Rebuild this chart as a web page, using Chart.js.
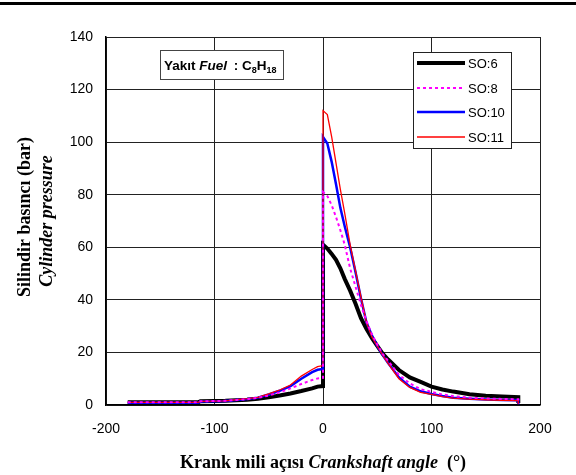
<!DOCTYPE html>
<html>
<head>
<meta charset="utf-8">
<script src="https://cdn.jsdelivr.net/npm/chart.js@4/dist/chart.umd.min.js"></script>
<style>
  html, body { margin: 0; padding: 0; background: #fff; }
  #wrap { width: 576px; height: 475px; }
</style>
</head>
<body>
<div id="wrap"><canvas id="pressure-chart" width="576" height="475"></canvas></div>
<script>
// crank angle (deg), 0 appears twice for the jump at TDC, 180 twice for the drop
const angles = [-180, -115, -113, -100, -90, -80, -70, -60, -50, -40, -30, -20, -10, -5, 0,
  0, 4, 8, 12, 16, 20, 25, 30, 35, 40, 45, 50, 55, 60, 70, 80, 90, 100, 110, 120, 135, 150, 165, 180, 180];

const so6 = [1.0, 1.0, 1.4, 1.5, 1.6, 1.8, 2.0, 2.4, 2.9, 3.6, 4.4, 5.3, 6.3, 7.0, 7.2,
  61, 59.5, 57.5, 55.2, 52, 48, 43.5, 38.5, 33, 29, 25.5, 22.5, 19.5, 17.3, 13.3, 10.5, 8.8, 7.0, 5.9, 5.1, 4.1, 3.5, 3.2, 3.0, 0.8];

const so8 = [1.0, 1.0, 1.4, 1.5, 1.6, 1.9, 2.2, 2.7, 3.6, 4.8, 6.3, 8.0, 9.5, 10.1, 10.3,
  81, 79.5, 76, 71.5, 66.5, 61, 52, 45, 38, 32, 27, 23, 19.5, 16.8, 11.5, 8.2, 6.0, 5.0, 4.0, 3.4, 2.8, 2.5, 2.3, 2.2, 0.5];

const so10 = [0.9, 0.9, 1.3, 1.4, 1.5, 1.9, 2.3, 2.8, 4.0, 5.4, 7.2, 10, 12.5, 13.4, 13.7,
  102, 99.5, 92.5, 84, 75, 68, 60, 50.5, 40.5, 31.5, 26.5, 22.5, 19, 16, 10.5, 7.0, 5.2, 4.2, 3.4, 2.8, 2.4, 2.1, 1.9, 1.8, 0.3];

const so11 = [1.0, 1.0, 1.4, 1.5, 1.6, 2.0, 2.4, 2.9, 4.2, 5.7, 7.6, 11, 13.5, 14.6, 15,
  112, 110.5, 102, 92, 82, 73, 61, 51, 41, 31.5, 26, 22.5, 19, 15.8, 10, 6.7, 4.8, 4.0, 3.2, 2.6, 2.2, 2.0, 1.8, 1.7, 0.4];

const seriesNames = ['SO:6', 'SO:8', 'SO:10', 'SO:11'];

const toPoints = (values) => angles.map((a, i) => ({ x: a, y: values[i] }));

// top rule across the page
const topRule = {
    id: 'topRule',
    beforeDraw(chart) {
        const ctx = chart.ctx;
        ctx.save();
        ctx.fillStyle = '#fff';
        ctx.fillRect(0, 0, chart.width, chart.height);
        ctx.fillStyle = '#000';
        ctx.fillRect(0, 2, chart.width, 3);
        ctx.restore();
    }
};

// draws text pieces one after another
function drawPieces(ctx, pieces, x, y) {
    let cx = x;
    pieces.forEach(p => {
        ctx.font = p.font;
        ctx.fillText(p.text, cx, y + (p.dy || 0));
        cx += ctx.measureText(p.text).width + (p.gap || 0);
    });
}

function piecesWidth(ctx, pieces) {
    let w = 0;
    pieces.forEach(p => {
        ctx.font = p.font;
        w += ctx.measureText(p.text).width + (p.gap || 0);
    });
    return w;
}

const extras = {
    id: 'extras',
    afterDraw(chart) {
        const ctx = chart.ctx;
        const area = chart.chartArea;
        ctx.save();
        ctx.fillStyle = '#000';
        ctx.textBaseline = 'alphabetic';

        // x title
        const serif = '"Liberation Serif", "Times New Roman", serif';
        const xPieces = [
            { text: 'Krank mili açısı ', font: 'bold 18px ' + serif },
            { text: 'Crankshaft angle', font: 'italic bold 18px ' + serif },
            { text: '  (°)', font: 'bold 18px ' + serif }
        ];
        const xMid = (area.left + area.right) / 2;
        drawPieces(ctx, xPieces, xMid - piecesWidth(ctx, xPieces) / 2, 468);

        // y title, two lines
        const yMid = (area.top + area.bottom) / 2;
        ctx.save();
        ctx.translate(30, yMid - 4);
        ctx.rotate(-Math.PI / 2);
        ctx.textAlign = 'center';
        ctx.font = 'bold 18px ' + serif;
        ctx.fillText('Silindir basıncı (bar)', 0, 0);
        ctx.restore();
        ctx.save();
        ctx.translate(52, yMid);
        ctx.rotate(-Math.PI / 2);
        ctx.textAlign = 'center';
        ctx.font = 'italic bold 18px ' + serif;
        ctx.fillText('Cylinder pressure', 0, 0);
        ctx.restore();

        // fuel box
        const sans = '"Liberation Sans", Arial, sans-serif';
        ctx.fillStyle = '#fff';
        ctx.fillRect(160.5, 50.5, 123, 29);
        ctx.strokeStyle = '#444';
        ctx.lineWidth = 1;
        ctx.strokeRect(160.5, 50.5, 123, 29);
        ctx.fillStyle = '#000';
        drawPieces(ctx, [
            { text: 'Yakıt ', font: 'bold 13.5px ' + sans },
            { text: 'Fuel', font: 'italic bold 13.5px ' + sans, gap: 3 },
            { text: ' : C', font: 'bold 13.5px ' + sans },
            { text: '8', font: 'bold 9px ' + sans, dy: 3 },
            { text: 'H', font: 'bold 13.5px ' + sans },
            { text: '18', font: 'bold 9px ' + sans, dy: 3 }
        ], 164, 70);

        // legend box
        ctx.fillStyle = '#fff';
        ctx.fillRect(413.5, 52.5, 98, 96);
        ctx.strokeStyle = '#222';
        ctx.strokeRect(413.5, 52.5, 98, 96);
        const rows = [63, 88, 112, 137];
        ctx.font = '13px ' + sans;
        ctx.textBaseline = 'middle';
        chart.data.datasets.forEach((ds, i) => {
            ctx.save();
            ctx.strokeStyle = ds.borderColor;
            ctx.lineWidth = ds.borderWidth;
            ctx.setLineDash(ds.borderDash || []);
            ctx.beginPath();
            ctx.moveTo(417, rows[i]);
            ctx.lineTo(465, rows[i]);
            ctx.stroke();
            ctx.restore();
            ctx.fillStyle = '#000';
            ctx.fillText(ds.label, 468, rows[i] + 1);
        });
        ctx.restore();
    }
};

new Chart(document.getElementById('pressure-chart'), {
    type: 'line',
    data: {
        datasets: [
            { label: seriesNames[0], data: toPoints(so6), borderColor: '#000000', borderWidth: 4, order: 3 },
            { label: seriesNames[1], data: toPoints(so8), borderColor: '#ff00ff', borderWidth: 2, borderDash: [3, 3], order: 0 },
            { label: seriesNames[2], data: toPoints(so10), borderColor: '#0000ff', borderWidth: 2.5, order: 2 },
            { label: seriesNames[3], data: toPoints(so11), borderColor: '#ff0000', borderWidth: 1.3, order: 1 }
        ]
    },
    options: {
        responsive: false,
        animation: false,
        events: [],
        layout: { padding: { top: 37, right: 36, left: 0, bottom: 0 } },
        elements: { point: { radius: 0 }, line: { tension: 0, fill: false } },
        plugins: { legend: { display: false }, tooltip: { enabled: false } },
        scales: {
            x: {
                type: 'linear',
                min: -200, max: 200,
                ticks: { stepSize: 100, padding: 16, color: '#000', font: { family: '"Liberation Sans", Arial, sans-serif', size: 14 } },
                grid: { color: '#222', lineWidth: 1, drawTicks: false },
                border: { color: '#000', width: 1.5 },
                afterFit(scale) { scale.height = 70; }
            },
            y: {
                min: 0, max: 140,
                ticks: { stepSize: 20, padding: 13, color: '#000', font: { family: '"Liberation Sans", Arial, sans-serif', size: 14 } },
                grid: { color: '#222', lineWidth: 1, drawTicks: false },
                border: { color: '#000', width: 1.5 },
                afterFit(scale) { scale.width = 106; }
            }
        }
    },
    plugins: [topRule, extras]
});
</script>
</body>
</html>
